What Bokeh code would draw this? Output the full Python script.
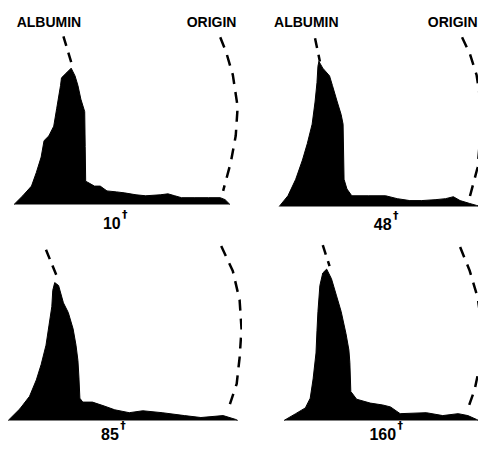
from bokeh.plotting import figure
from bokeh.layouts import gridplot
from bokeh.models import Range1d
from bokeh.core.properties import value
from bokeh.embed import file_html
from bokeh.resources import INLINE

# ---- data (migration distance vs. density) ----
sample_labels = ["10", "48", "85", "160"]

dist_10 = [14, 23, 32, 37, 42, 45, 50, 55, 58, 62, 63, 68, 73, 77, 80, 83, 87, 87.5, 88, 90,
           97, 103, 110, 120, 128, 140, 150, 165, 173, 180, 187, 200, 215, 227, 232, 237]
dens_10 = [0, 9, 19, 33, 49, 66, 71, 81, 99, 123, 131, 136, 141, 133, 123, 109, 96, 60, 24, 23,
           19, 19, 14, 13, 12, 10, 9, 10, 11, 9, 7, 7, 7, 7, 5, 0]

dist_48 = [38, 47, 55, 62, 67, 72, 75, 77, 78, 79, 83, 90, 93, 98, 102, 104, 105, 108, 113, 130,
           148, 160, 173, 185, 200, 210, 218, 225, 235, 242, 246]
dens_48 = [0, 11, 28, 48, 65, 85, 108, 128, 145, 150, 143, 135, 125, 108, 95, 85, 28, 18, 11, 11,
           11, 8, 6, 6, 7, 8, 10, 6, 3, 1, 0]

dist_85 = [8, 20, 30, 37, 42, 47, 50, 53, 54, 56, 60, 65, 70, 75, 78, 80, 81, 82, 85, 95,
           107, 118, 133, 147, 167, 190, 207, 230, 243, 245]
dens_85 = [0, 12, 25, 42, 58, 78, 98, 118, 135, 143, 140, 122, 112, 95, 78, 62, 45, 23, 19, 19,
           15, 11, 8, 10, 8, 5, 3, 5, 1, 0]

dist_160 = [43, 55, 65, 70, 73, 76, 77, 78, 80, 83, 87, 92, 97, 102, 107, 110, 111, 112, 118, 132,
            145, 153, 163, 190, 207, 223, 233, 242, 244]
dens_160 = [0, 7, 13, 23, 43, 70, 93, 113, 140, 153, 157, 147, 130, 113, 90, 73, 60, 30, 22, 18,
            16, 14, 7, 8, 5, 7, 5, 1, 0]

# albumin marker lines (dashed)
alb_x_10, alb_y_10 = [65, 74], [174, 144]
alb_x_48, alb_y_48 = [75, 80], [174, 150]
alb_x_85, alb_y_85 = [47, 58], [177, 150]
alb_x_160, alb_y_160 = [83, 90], [182, 160]

# origin boundary curves (dashed)
org_x_10 = [227, 233, 240, 245, 243, 238, 230]
org_y_10 = [173, 158, 134, 101, 71, 44, 14]
org_x_48 = [227, 235, 242, 247, 246, 243, 235]
org_y_48 = [175, 158, 136, 103, 73, 40, 10]
org_x_85 = [228, 240, 247, 249, 247, 244, 237]
org_y_85 = [181, 155, 125, 95, 65, 38, 17]
org_x_160 = [225, 235, 243, 248, 247, 240, 233]
org_y_160 = [180, 155, 128, 95, 65, 32, 12]

FONT = value("Liberation Sans")
DAG_FONT = value("DejaVu Sans")


def make_panel(w, h, xr, yr, dist, dens, ax, ay, ox, oy, label, label_pos, top_pos):
    p = figure(width=w, height=h, x_range=Range1d(*xr), y_range=Range1d(*yr),
               output_backend="svg", toolbar_location=None,
               x_axis_location=None, y_axis_location=None,
               min_border=0, min_border_left=0, min_border_right=0,
               min_border_top=0, min_border_bottom=0)
    p.grid.visible = False
    p.outline_line_color = None
    p.background_fill_color = "white"
    p.border_fill_color = "white"

    p.varea(x=dist, y1=[0] * len(dist), y2=dens, fill_color="black")
    p.line(x=dist, y=dens, line_color="black", line_width=1)
    p.line(x=ax, y=ay, line_color="black", line_width=2.5, line_dash="10 7")
    p.line(x=ox, y=oy, line_color="black", line_width=2.5, line_dash="11 8")

    lx, ly = label_pos
    p.text(x=[lx], y=[ly], text=[label], text_font=FONT, text_font_style="bold",
           text_font_size="16px", text_align="center", text_baseline="middle",
           text_color="black")
    p.text(x=[lx], y=[ly], text=["\u2020"], text_font=DAG_FONT, text_font_style="bold",
           text_font_size="11px", text_align="center", text_baseline="middle",
           x_offset=4.5 * len(label) + 4, y_offset=-8, text_color="black")

    if top_pos is not None:
        (bx, by), (gx, gy, galign) = top_pos
        p.text(x=[bx], y=[by], text=["ALBUMIN"], text_font=FONT,
               text_font_style="bold", text_font_size="14px", text_align="center",
               text_baseline="middle", text_color="black")
        p.text(x=[gx], y=[gy], text=["ORIGIN"], text_font=FONT,
               text_font_style="bold", text_font_size="14px", text_align=galign,
               text_baseline="middle", text_color="black")
    return p


p1 = make_panel(242, 232, (0, 250), (-29, 211), dist_10, dens_10, alb_x_10, alb_y_10,
                org_x_10, org_y_10, sample_labels[0], (115, -19),
                ((50, 189), (218, 189, "center")))
p2 = make_panel(236, 232, (0, 244), (-27, 213), dist_48, dens_48, alb_x_48, alb_y_48,
                org_x_48, org_y_48, sample_labels[1], (145, -18),
                ((66, 191), (243, 191, "right")))
p3 = make_panel(242, 212, (0, 250), (-25, 195), dist_85, dens_85, alb_x_85, alb_y_85,
                org_x_85, org_y_85, sample_labels[2], (113, -14), None)
p4 = make_panel(236, 212, (0, 244), (-25, 195), dist_160, dens_160, alb_x_160, alb_y_160,
                org_x_160, org_y_160, sample_labels[3], (145, -14), None)

grid = gridplot([[p1, p2], [p3, p4]], toolbar_location=None)

open("out.html", "w").write(file_html(grid, INLINE))
